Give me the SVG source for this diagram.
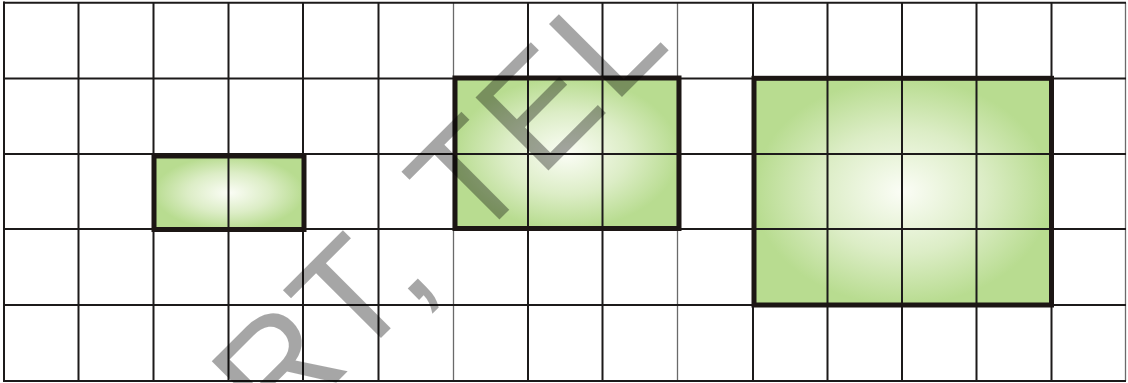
<svg xmlns="http://www.w3.org/2000/svg" width="1128" height="383" viewBox="0 0 1128 383">
  <defs>
    <radialGradient id="g" cx="0.5" cy="0.5" r="0.5" fx="0.5" fy="0.5">
      <stop offset="0" stop-color="#fbfdf6"/>
      <stop offset="0.55" stop-color="#dcedc6"/>
      <stop offset="1" stop-color="#b8dc90"/>
    </radialGradient>
    <style>
      .grid line { stroke: #1c1a1a; stroke-width: 2; }
      .grid line.thin { stroke: #6a6a6a; stroke-width: 1.3; }
      .inner line { stroke: #1c1a1a; stroke-width: 1.6; }
      .box { fill: url(#g); stroke: none; }
      .frame { fill: none; stroke: #1c1614; stroke-width: 5; }
      .wm { font-family: "Liberation Sans", Arial, sans-serif; font-size: 150px; letter-spacing: 4px; fill: #000; fill-opacity: 0.35; }
    </style>
  </defs>
  <rect width="1128" height="383" fill="#ffffff"/>

  <g id="fills">
    <rect class="box" x="154" y="156" width="150" height="73.5"/>
    <rect class="box" x="455" y="78" width="224" height="150.5"/>
    <rect class="box" x="754" y="78.3" width="297.5" height="226.7"/>
  </g>

  <g id="grid" class="grid">
    <line x1="4" y1="1.5" x2="4" y2="382"/>
    <line x1="78.5" y1="2.7" x2="78.5" y2="381"/>
    <line x1="153.5" y1="2.7" x2="153.5" y2="381"/>
    <line x1="228.5" y1="2.7" x2="228.5" y2="381"/>
    <line x1="303" y1="2.7" x2="303" y2="381"/>
    <line x1="378.5" y1="2.7" x2="378.5" y2="381"/>
    <line class="thin" x1="453.5" y1="2.7" x2="453.5" y2="381"/>
    <line x1="528" y1="2.7" x2="528" y2="381"/>
    <line x1="602.5" y1="2.7" x2="602.5" y2="381"/>
    <line class="thin" x1="677.5" y1="2.7" x2="677.5" y2="381"/>
    <line x1="753" y1="2.7" x2="753" y2="381"/>
    <line x1="827.5" y1="2.7" x2="827.5" y2="381"/>
    <line x1="902" y1="2.7" x2="902" y2="381"/>
    <line x1="976.5" y1="2.7" x2="976.5" y2="381"/>
    <line x1="1051.5" y1="2.7" x2="1051.5" y2="381"/>
    <line class="thin" x1="1125.5" y1="2.7" x2="1125.5" y2="381"/>
    <line x1="3" y1="2.7" x2="1126" y2="2.7"/>
    <line x1="3" y1="78.5" x2="1126" y2="78.5"/>
    <line x1="3" y1="154" x2="1126" y2="154"/>
    <line x1="3" y1="229" x2="1126" y2="229"/>
    <line x1="3" y1="305" x2="1126" y2="305"/>
    <line x1="3" y1="381" x2="1126" y2="381"/>
  </g>

  <g id="box1">
    <rect class="frame" x="154" y="156" width="150" height="73.5"/>
  </g>
  <g id="box2">
    <rect class="frame" x="455" y="78" width="224" height="150.5"/>
  </g>
  <g id="box3">
    <rect class="frame" x="754" y="78.3" width="297.5" height="226.7"/>
  </g>

  <g id="watermark">
    <text class="wm" x="276" y="443" transform="rotate(-45 276 443)">RT, TEL</text>
  </g>
</svg>
